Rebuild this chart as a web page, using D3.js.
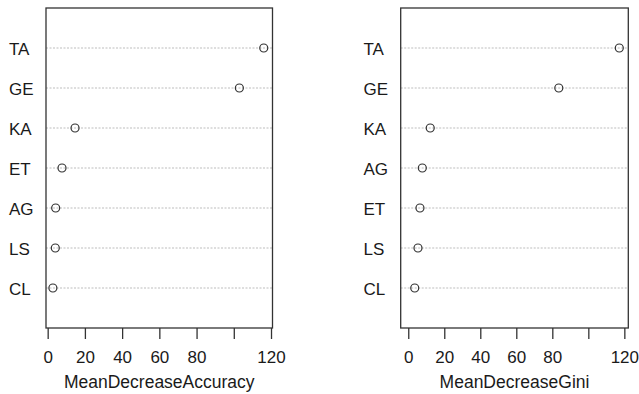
<!DOCTYPE html>
<html>
<head>
<meta charset="utf-8">
<script src="https://cdn.jsdelivr.net/npm/d3@7"></script>
<style>
  body { margin: 0; background: #fff; }
  svg { display: block; }
  text { font-family: "Liberation Sans", Arial, sans-serif; fill: #1a1a1a; }
</style>
</head>
<body>
<div id="chart"></div>
<script>
// variable importance
const accCats = ["TA", "GE", "KA", "ET", "AG", "LS", "CL"];
const accVals = [116.1, 103, 14.7, 7.7, 4.3, 4.1, 2.8];

const giniCats = ["TA", "GE", "KA", "AG", "ET", "LS", "CL"];
const giniVals = [117.2, 83.6, 12.2, 7.8, 6.5, 5.4, 3.6];

const xTicks = [0, 20, 40, 60, 80, 100, 120];
const xTickLabels = ["0", "20", "40", "60", "80", "", "120"];

const w = 639;
const h = 394;
const boxTop = 8, boxBottom = 328;

const svg = d3.select("#chart")
    .append("svg")
    .attr("width", w)
    .attr("height", h);

function dotPanel(cats, vals, xDomain, xRange, labelX, title) {
    const xScale = d3.scaleLinear().domain(xDomain).range(xRange);
    const yScale = d3.scalePoint().domain(cats).range([boxTop, boxBottom]).padding(1);

    const g = svg.append("g");

    // dotted guide lines
    g.selectAll(".grid")
        .data(cats)
        .enter()
        .append("line")
        .attr("x1", xRange[0])
        .attr("x2", xRange[1])
        .attr("y1", d => yScale(d))
        .attr("y2", d => yScale(d))
        .attr("stroke", "#bdbdbd")
        .attr("stroke-width", 1)
        .attr("stroke-dasharray", "2,1.5");

    // box
    g.append("rect")
        .attr("x", xRange[0])
        .attr("y", boxTop)
        .attr("width", xRange[1] - xRange[0])
        .attr("height", boxBottom - boxTop)
        .attr("fill", "none")
        .attr("stroke", "#333")
        .attr("stroke-width", 1.3);

    // points
    g.selectAll(".pt")
        .data(vals)
        .enter()
        .append("circle")
        .attr("cx", d => xScale(d))
        .attr("cy", (d, i) => yScale(cats[i]))
        .attr("r", 4)
        .attr("fill", "none")
        .attr("stroke", "#333")
        .attr("stroke-width", 1.2);

    // category labels, left aligned in margin
    g.selectAll(".lab")
        .data(cats)
        .enter()
        .append("text")
        .attr("x", labelX)
        .attr("y", d => yScale(d) + 6.5)
        .style("font-size", "17px")
        .text(d => d);

    const xAxis = d3.axisBottom(xScale)
        .tickValues(xTicks)
        .tickSize(11)
        .tickSizeOuter(0)
        .tickFormat((d, i) => xTickLabels[i]);

    const ax = g.append("g")
        .attr("transform", "translate(0," + boxBottom + ")")
        .call(xAxis);
    ax.select(".domain").remove();
    ax.selectAll(".tick line").attr("stroke", "#333").attr("stroke-width", 1.3);
    ax.selectAll(".tick text")
        .attr("y", 35)
        .attr("dy", null)
        .style("font-size", "17px")
        .style("font-family", "'Liberation Sans', Arial, sans-serif")
        .attr("fill", "#1a1a1a");

    g.append("text")
        .text(title)
        .style("text-anchor", "middle")
        .style("font-size", "17.5px")
        .attr("x", (xRange[0] + xRange[1]) / 2)
        .attr("y", 388);
}

dotPanel(accCats, accVals, [-0.9, 120.8], [46, 272.5], 9, "MeanDecreaseAccuracy");
dotPanel(giniCats, giniVals, [-4.2, 122.2], [400.7, 628.3], 363.5, "MeanDecreaseGini");
</script>
</body>
</html>
